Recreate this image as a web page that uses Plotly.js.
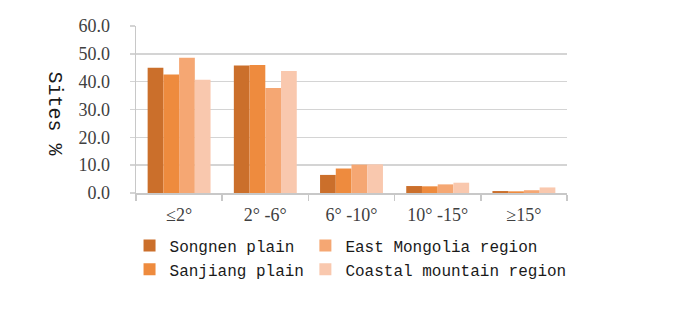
<!DOCTYPE html>
<html>
<head>
<meta charset="utf-8">
<script src="https://cdn.plot.ly/plotly-3.0.1.min.js"></script>
<style>html,body{margin:0;padding:0;background:#fff;}#chart{width:683px;height:321px;}</style>
</head>
<body>
<div id="chart"></div>
<script>
var categories = ["≤2°", "2° -6°", "6° -10°", "10° -15°", "≥15°"];
var songnen = [45.0, 45.8, 6.5, 2.5, 0.7];
var sanjiang = [42.6, 46.0, 8.8, 2.4, 0.6];
var eastMongolia = [48.6, 37.7, 10.2, 3.1, 1.0];
var coastal = [40.7, 43.8, 10.3, 3.7, 2.0];
var seriesNames = ["Songnen plain", "Sanjiang plain", "East Mongolia region", "Coastal mountain region"];
var yTickVals = [0, 10, 20, 30, 40, 50, 60];

var colors = ["#CB6F2B", "#EE8B3E", "#F5A773", "#F9C8AE"];
var legendIds = ["legend", "legend", "legend2", "legend2"];
var values = [songnen, sanjiang, eastMongolia, coastal];

var traces = values.map(function (v, i) {
  return {
    type: "bar",
    name: seriesNames[i],
    x: categories,
    y: v,
    marker: {color: colors[i], line: {width: 0}},
    legend: legendIds[i],
    hoverinfo: "x+y+name"
  };
});

var legendFont = {family: "Liberation Mono, monospace", size: 16, color: "#1a1a1a"};

var layout = {
  width: 683,
  height: 321,
  paper_bgcolor: "#ffffff",
  plot_bgcolor: "#ffffff",
  margin: {l: 136, r: 116, t: 26, b: 128},
  barmode: "group",
  bargap: 0.27,
  bargroupgap: 0,
  showlegend: true,
  legend: {
    orientation: "v",
    x: -0.015,
    xanchor: "left",
    y: -0.213,
    yanchor: "top",
    traceorder: "normal",
    bgcolor: "rgba(0,0,0,0)",
    font: legendFont,
    itemwidth: 30,
    tracegroupgap: 0
  },
  legend2: {
    orientation: "v",
    x: 0.393,
    xanchor: "left",
    y: -0.213,
    yanchor: "top",
    traceorder: "normal",
    bgcolor: "rgba(0,0,0,0)",
    font: legendFont,
    itemwidth: 30,
    tracegroupgap: 0
  },
  xaxis: {
    type: "category",
    showgrid: false,
    showline: true,
    linecolor: "#c8c8c8",
    linewidth: 1.5,
    ticks: "outside",
    tickson: "boundaries",
    ticklen: 6,
    tickcolor: "#c8c8c8",
    tickwidth: 1.5,
    tickfont: {family: "Liberation Serif, serif", size: 18, color: "#404040"},
    ticklabelstandoff: 5,
    fixedrange: true
  },
  yaxis: {
    range: [0, 60],
    tickvals: yTickVals,
    tickformat: ".1f",
    showgrid: true,
    gridcolor: "#d4d4d4",
    gridwidth: 1.5,
    showline: true,
    linecolor: "#c8c8c8",
    linewidth: 1.5,
    ticks: "outside",
    ticklen: 5,
    tickcolor: "#d4d4d4",
    tickwidth: 1.5,
    zeroline: false,
    tickfont: {family: "Liberation Serif, serif", size: 18, color: "#404040"},
    ticklabelstandoff: 16,
    fixedrange: true
  },
  annotations: [{
    text: "Sites %",
    textangle: 90,
    xref: "paper",
    yref: "paper",
    x: -0.19,
    y: 0.475,
    xanchor: "center",
    yanchor: "middle",
    showarrow: false,
    font: {family: "Liberation Mono, monospace", size: 20, color: "#1a1a1a"}
  }]
};

Plotly.newPlot("chart", traces, layout, {displayModeBar: false, staticPlot: true});
</script>
</body>
</html>
